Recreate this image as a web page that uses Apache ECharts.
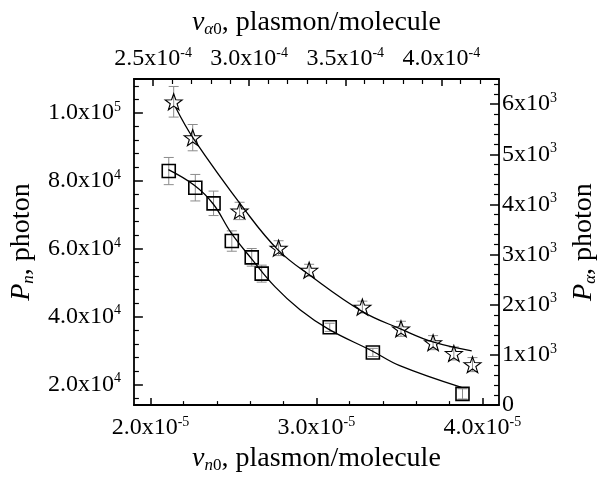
<!DOCTYPE html>
<html>
<head>
<meta charset="utf-8">
<script src="https://cdn.jsdelivr.net/npm/echarts/dist/echarts.min.js"></script>
<style>html,body{margin:0;padding:0;background:#fff;}#c{width:608px;height:479px;}</style>
</head>
<body>
<div id="c"></div>
<script>
// ---- data: squares (bottom / left axes) ----
const sqX = [2.11e-5, 2.27e-5, 2.38e-5, 2.49e-5, 2.61e-5, 2.67e-5, 3.08e-5, 3.34e-5, 3.88e-5];
const sqY = [82900, 78000, 73400, 62300, 57500, 52700, 36900, 29500, 17300];
const sqErr = [4000, 3900, 3600, 3000, 2600, 2500, 1200, 1200, 1500];
// fitted curve for squares
const sqFitX = [2.108e-5, 2.264e-5, 2.378e-5, 2.486e-5, 2.607e-5, 2.751e-5, 2.901e-5, 3.075e-5, 3.333e-5, 3.502e-5, 3.874e-5];
const sqFitY = [83300, 78700, 73200, 64700, 57200, 48800, 42100, 36300, 30000, 25600, 19200];

// ---- data: stars (top / right axes) ----
const stX = [2.607e-4, 2.706e-4, 2.950e-4, 3.153e-4, 3.312e-4, 3.589e-4, 3.790e-4, 3.957e-4, 4.065e-4, 4.162e-4];
const stY = [6046, 5331, 3870, 3128, 2689, 1954, 1521, 1245, 1029, 807];
const stErr = [305, 262, 173, 148, 118, 118, 150, 140, 130, 140];
const stFitX = [2.616e-4, 2.710e-4, 2.980e-4, 3.151e-4, 3.312e-4, 3.587e-4, 3.790e-4, 3.956e-4, 4.158e-4];
const stFitY = [5941, 5312, 3876, 3089, 2597, 1869, 1515, 1259, 1082];

// ---- tick labels ----
const bottomMajor = [2e-5, 3e-5, 4e-5];
const bottomMinor = [2.2e-5, 2.4e-5, 2.6e-5, 2.8e-5, 3.2e-5, 3.4e-5, 3.6e-5, 3.8e-5];
const topMajor = [2.5e-4, 3.0e-4, 3.5e-4, 4.0e-4];
const topMinor = [2.6e-4, 2.7e-4, 2.8e-4, 2.9e-4, 3.1e-4, 3.2e-4, 3.3e-4, 3.4e-4, 3.6e-4, 3.7e-4, 3.8e-4, 3.9e-4, 4.1e-4, 4.2e-4];
const leftMajor = [20000, 40000, 60000, 80000, 100000];
const leftMinor = [16000, 24000, 28000, 32000, 36000, 44000, 48000, 52000, 56000, 64000, 68000, 72000, 76000, 84000, 88000, 92000, 96000, 104000, 108000];
const rightMajor = [0, 1000, 2000, 3000, 4000, 5000, 6000];
const rightMinor = [];
for (let k = 1; k <= 32; k++) { if (k % 5 !== 0) rightMinor.push(k * 200); }

const FF = 'Liberation Serif';
const richLab = {
  m: {fontFamily: FF, fontSize: 24, color: '#000', lineHeight: 26},
  e: {fontFamily: FF, fontSize: 14, color: '#000', lineHeight: 14, verticalAlign: 'top'}
};
const richName = {
  i: {fontFamily: FF, fontSize: 28, fontStyle: 'italic', color: '#000', lineHeight: 30},
  s: {fontFamily: FF, fontSize: 17, fontStyle: 'italic', color: '#000', lineHeight: 17, verticalAlign: 'bottom'},
  s0: {fontFamily: FF, fontSize: 17, color: '#000', lineHeight: 17, verticalAlign: 'bottom'},
  t: {fontFamily: FF, fontSize: 28, color: '#000', lineHeight: 30}
};
function sci(v, exp, digits) {
  const m = v / Math.pow(10, exp);
  return '{m|' + m.toFixed(digits) + 'x10}{e|' + exp + '}';
}
const black = {color: '#000', width: 1.8};

function majorAxis(pos, min, max, ticks, fmt, margin, len, extra) {
  return Object.assign({
    type: 'value', position: pos, min: min, max: max, gridIndex: 0,
    axisLine: {show: true, onZero: false, lineStyle: black},
    axisTick: {show: true, inside: true, length: len, customValues: ticks, lineStyle: {color: '#000', width: 1.5}},
    axisLabel: {show: true, customValues: ticks, margin: margin, formatter: fmt, rich: richLab, fontFamily: FF, fontSize: 24, color: '#000'},
    splitLine: {show: false}
  }, extra || {});
}
function minorAxis(pos, min, max, ticks, len) {
  return {
    type: 'value', position: pos, min: min, max: max, gridIndex: 0,
    axisLine: {show: false, onZero: false},
    axisTick: {show: true, inside: true, length: len, customValues: ticks, lineStyle: {color: '#000', width: 1.2}},
    axisLabel: {show: false},
    splitLine: {show: false}
  };
}

const chart = echarts.init(document.getElementById('c'), null, {renderer: 'canvas'});

function errItem(params, api) {
  const x = api.value(0), lo = api.value(1), hi = api.value(2);
  const p1 = api.coord([x, lo]), p2 = api.coord([x, hi]);
  const w = 5;
  const st = {stroke: '#8c8c8c', lineWidth: 1};
  return {type: 'group', children: [
    {type: 'line', shape: {x1: p1[0], y1: p1[1], x2: p2[0], y2: p2[1]}, style: st},
    {type: 'line', shape: {x1: p1[0] - w, y1: p1[1], x2: p1[0] + w, y2: p1[1]}, style: st},
    {type: 'line', shape: {x1: p2[0] - w, y1: p2[1], x2: p2[0] + w, y2: p2[1]}, style: st}
  ]};
}

const starPath = 'path://M0,-10L2.35,-3.24L9.51,-3.09L3.8,1.24L5.88,8.09L0,4L-5.88,8.09L-3.8,1.24L-9.51,-3.09L-2.35,-3.24Z';

chart.setOption({
  animation: false,
  backgroundColor: '#fff',
  grid: {left: 133, top: 79, width: 366, height: 331, containLabel: false},
  xAxis: [
    majorAxis('bottom', 1.9e-5, 4.1e-5, bottomMajor, v => sci(v, -5, 1), 10, 7, {
      name: '{i|ν}{s|n}{s0|0}{t|, plasmon/molecule}', nameLocation: 'middle', nameGap: 34,
      nameTextStyle: {rich: richName}
    }),
    minorAxis('bottom', 1.9e-5, 4.1e-5, bottomMinor, 4),
    majorAxis('top', 2.4e-4, 4.3e-4, topMajor, v => sci(v, -4, 1), 7, 7, {
      name: '{i|ν}{s|α}{s0|0}{t|, plasmon/molecule}', nameLocation: 'middle', nameGap: 41,
      nameTextStyle: {rich: richName}
    }),
    minorAxis('top', 2.4e-4, 4.3e-4, topMinor, 5)
  ],
  yAxis: [
    majorAxis('left', 14000, 110000, leftMajor, v => sci(v, v >= 100000 ? 5 : 4, 1), 13, 9, {
      name: '{i|P}{s|n}{t|, photon}', nameLocation: 'middle', nameGap: 96,
      nameTextStyle: {rich: richName}
    }),
    minorAxis('left', 14000, 110000, leftMinor, 5),
    majorAxis('right', 0, 6500, rightMajor, v => v === 0 ? '{m|0}' : sci(v, 3, 0), 3, 9, {
      name: '{i|P}{s|α}{t|, photon}', nameLocation: 'middle', nameGap: 70,
      nameTextStyle: {rich: richName}
    }),
    minorAxis('right', 0, 6500, rightMinor, 5)
  ],
  series: [
    {
      type: 'custom', xAxisIndex: 0, yAxisIndex: 0, renderItem: errItem, z: 1,
      encode: {x: 0, y: [1, 2]},
      data: sqX.map((x, i) => [x, sqY[i] - sqErr[i], sqY[i] + sqErr[i]])
    },
    {
      type: 'custom', xAxisIndex: 2, yAxisIndex: 2, renderItem: errItem, z: 1,
      encode: {x: 0, y: [1, 2]},
      data: stX.map((x, i) => [x, stY[i] - stErr[i], stY[i] + stErr[i]])
    },
    {
      type: 'line', xAxisIndex: 0, yAxisIndex: 0, smooth: 0.4, showSymbol: false, z: 2,
      lineStyle: {color: '#000', width: 1.3},
      data: sqFitX.map((x, i) => [x, sqFitY[i]])
    },
    {
      type: 'line', xAxisIndex: 2, yAxisIndex: 2, smooth: 0.4, showSymbol: false, z: 2,
      lineStyle: {color: '#000', width: 1.3},
      data: stFitX.map((x, i) => [x, stFitY[i]])
    },
    {
      type: 'scatter', xAxisIndex: 0, yAxisIndex: 0, symbol: 'rect', symbolSize: 13, z: 3,
      itemStyle: {color: 'rgba(255,255,255,0)', borderColor: '#000', borderWidth: 1.6, opacity: 1},
      data: sqX.map((x, i) => [x, sqY[i]])
    },
    {
      type: 'scatter', xAxisIndex: 2, yAxisIndex: 2, symbol: starPath, symbolSize: [17, 16], z: 3,
      itemStyle: {color: 'rgba(255,255,255,0)', borderColor: '#000', borderWidth: 1.1, opacity: 1},
      data: stX.map((x, i) => [x, stY[i]])
    }
  ]
});
</script>
</body>
</html>
